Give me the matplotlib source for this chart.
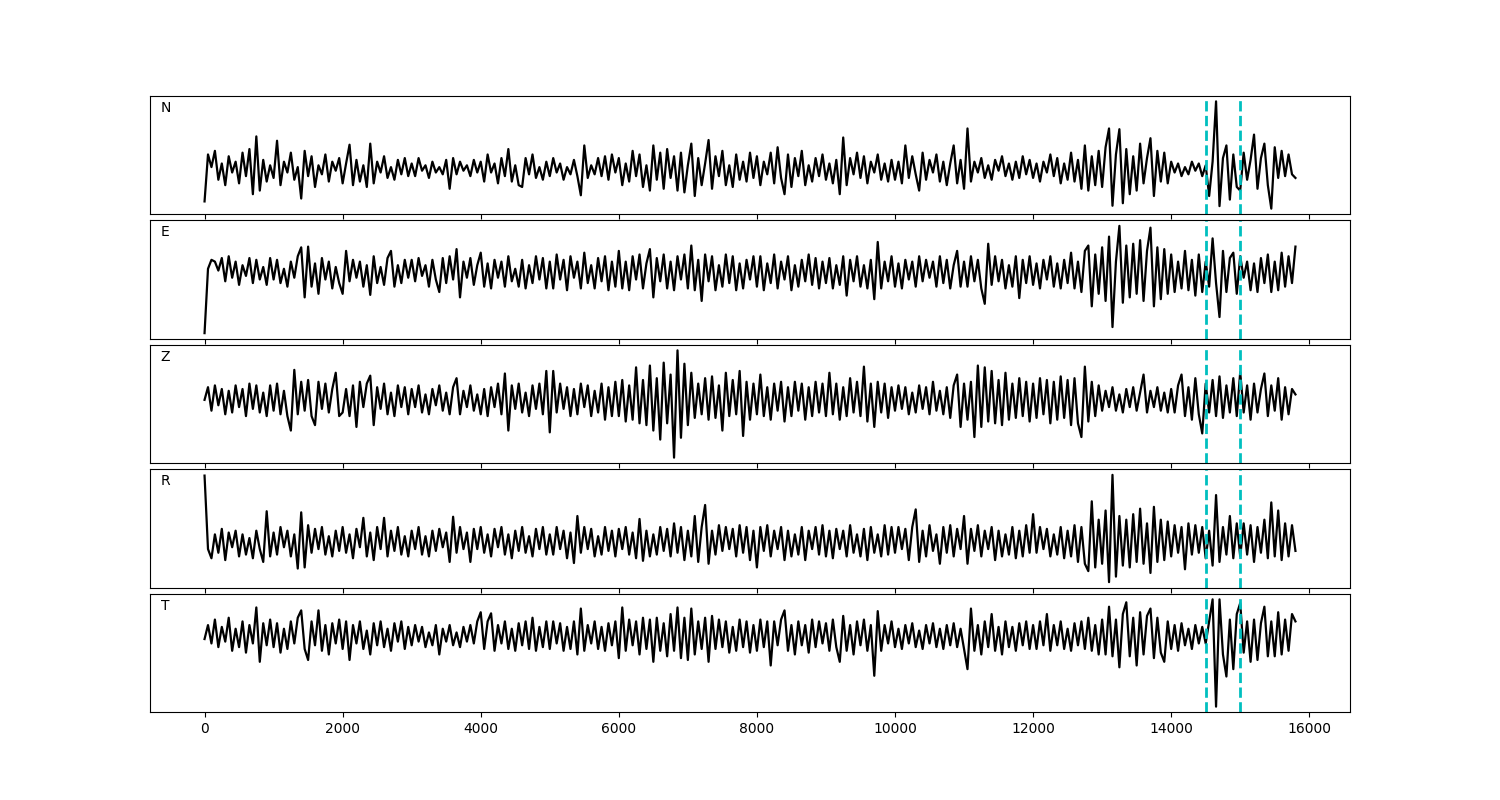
import numpy as np
import matplotlib
matplotlib.use("Agg")
import matplotlib.pyplot as plt

STEP = 50
PICKS = [14500, 15000]
LABELS = ["N", "E", "Z", "R", "T"]

N_TRACE = [
    -90, 40, 5, 50, -30, 15, -45, 35, -10, 20, -40, 45, -20, 55, -70, 90, -60, 25, -35, 10,
    -25, 78, -45, 20, -10, 45, -30, 5, -82, 50, -20, 35, -50, 10, -15, 40, -35, 20, -5, 30,
    -40, 15, 67, -45, 25, -35, 10, -50, 70, -40, 20, -10, 35, -25, 5, -30, 25, -15, 30, -20,
    15, -20, 30, -5, 10, -25, 20, -10, 5, -15, 25, -55, 30, -15, 20, -5, 10, -20, 25, -10,
    20, -35, 40, -10, 15, -40, 30, -20, 55, -35, 10, -45, -50, 30, -15, 40, -25, 5, -30, 20,
    -20, 30, -10, 15, -30, 5, -15, 25, -20, -73, 65, -25, 10, -15, 30, -20, 35, -30, 40, -10,
    30, -45, 15, -35, 50, -20, 40, -50, 10, -60, 65, -30, 45, -55, 55, -25, 35, -60, 45, -65,
    10, 70, -75, 30, -45, 15, 80, -55, 35, -20, 50, -45, 10, -50, 40, -30, 20, -35, 45, -25,
    35, -45, 20, -15, 45, -40, 60, -25, -70, 40, -50, 30, -20, 50, -45, 10, -35, 30, -20, 40,
    -30, 15, -40, 25, -70, 87, -45, 30, -15, 45, -25, 35, -40, 20, -10, 40, -30, 15, -35, 25,
    -30, 20, -40, 65, -25, 35, -15, -60, 45, -30, 25, -10, 40, -35, 20, -45, 15, 65, -40, 25,
    -55, 112, -35, 20, -10, 30, -25, 10, -30, 25, -5, 35, -20, 15, -30, 20, -25, 35, -15, 25,
    -25, 15, -35, 20, -10, 40, -20, 30, -40, 15, -30, 45, -35, 25, -55, 65, -60, 35, -45, 50,
    -50, 60, 112, -102, 40, 110, -95, 55, -70, 35, -60, 70, -40, 30, 85, -75, 50, -35, 45, -40,
    20, -10, 15, -20, 5, -15, 20, -5, 15, -20, 10, -75, 20, 187, -103, 30, 65, -85, 40, -50,
    -60, 45, -30, 25, 95, -55, 30, 70, -45, -110, 60, -25, 50, -20, 40, -15, -25,
]

E_TRACE = [
    -170, 10, 35, 30, 5, 40, -25, 45, -15, 30, -35, 20, -10, 40, -30, 35, -20, 15, -35, 40,
    -20, 35, -30, 10, -40, 30, -15, 45, 70, -70, 72, -40, 25, -60, 40, -20, 30, -45, 15, -30,
    -60, 60, -25, 35, -15, 30, -40, 20, -63, 45, -30, 15, -35, 40, 60, -40, 20, -30, 35, -15,
    35, -25, 40, -10, 20, -40, 35, -20, -55, 40, -30, 45, -20, 65, -70, 30, -15, 40, -35, 20,
    55, -40, 25, -45, 35, -15, 30, -40, 45, -25, 10, -40, 35, -45, 20, -30, 45, -20, 40, -45,
    30, -45, 50, -20, 35, -50, 45, -15, 30, -45, 55, -30, 20, -45, 40, -25, 45, -50, 30, -40,
    60, -45, 30, -50, 45, -20, 50, -45, 25, 65, -70, 40, -25, 50, -45, 30, -50, 45, -20, 50,
    -45, 75, -50, 35, -80, 50, -25, 45, -50, 20, -40, 50, -30, 45, -50, 25, -45, 35, -20, 45,
    -40, 45, -50, 25, -30, 50, -45, 30, -20, 45, -50, 20, -40, 35, -25, 50, -35, 40, -45, 30,
    -30, 40, -45, 20, -35, 45, -65, 35, -25, 45, -40, 20, -45, 35, -75, 85, -45, 30, -25, 45,
    -40, 25, -45, 35, -20, 30, -40, 45, -25, 35, -15, 30, -40, 45, -30, 35, -45, 20, 60, -40,
    30, -40, 45, -25, 35, -45, -88, 80, -35, 45, -25, 35, -45, 20, -40, 45, -72, 35, -30, 45,
    -35, 25, -45, 35, -20, 45, -40, 25, -45, 35, -30, 55, -45, 30, -55, 60, 75, -95, 50, -60,
    70, -80, 100, -153, 30, 130, -85, 75, -70, 80, -60, 90, -80, 60, 125, -95, 70, -75, 65, -60,
    50, -55, 30, -45, 60, -50, 35, -65, 50, -55, 30, -40, 95, -30, -125, 60, -55, 40, 55, -60,
    45, -15, 30, -50, 25, -55, 40, -30, 50, -55, 30, -50, 55, -40, 45, -30, 72,
]

Z_TRACE = [
    0, 35, -30, 40, -15, 30, -40, 25, -35, 40, -20, 30, -45, 45, -25, 40, -35, 20, -45, 40,
    -30, 45, -40, 25, -45, -85, 83, -40, 50, -30, 55, -45, -70, 50, -25, 45, -35, 30, 75, -45,
    -35, 30, -45, 40, -75, 50, -20, 45, 67, -70, 35, -25, 45, -40, 20, -45, 40, -20, 35, -40,
    30, -20, 40, -35, 15, -40, 30, -15, 40, -30, 20, -40, 35, 60, -40, 25, -20, 40, -30, 15,
    -40, 30, -45, 35, -20, 45, -40, 73, -85, 40, -25, 45, -35, 20, -45, 40, -25, 45, -40, 80,
    -90, 80, -35, 45, -25, 35, -45, 30, -40, 45, -20, 40, -45, 25, -35, 45, -55, 35, -45, 50,
    -45, 55, -60, 40, -55, 90, -65, 55, -70, 95, -85, 60, -110, 103, -65, 70, -160, 137, -105, 100,
    -70, 75, -50, 45, -40, 60, -55, 65, -50, 40, -85, 75, -45, 55, -40, 80, -100, 50, -55, 45,
    -40, 70, -45, 35, -55, 45, -30, 50, -60, 35, -45, 50, -30, 45, -55, 35, -45, 50, -35, 45,
    -45, 75, -40, 45, -55, 35, -45, 60, -35, 50, -45, 92, -60, 45, -75, 50, -35, 45, -50, 35,
    -30, 40, -25, 35, -40, 20, -35, 40, -25, 35, -40, 50, -30, 25, -40, 35, -50, 40, 70, -75,
    45, -55, 50, -103, 95, -75, 90, -60, 80, -65, 55, -70, 75, -55, 45, -50, 60, -45, 50, -60,
    45, -50, 60, -40, 55, -65, 50, -55, 65, -50, 55, -70, 60, -65, -103, 92, -60, 50, -45, 40,
    -30, 25, -20, 35, -30, 15, -35, 30, -20, 35, -30, 20, 70, -35, 25, -20, 35, -30, 20, -35,
    30, -35, 40, 70, -45, 35, -55, 60, -40, -93, 45, -35, 55, -45, 65, -50, 40, -35, 60, -45,
    77, -35, 40, -55, 45, -35, 30, 73, -45, 40, -30, 60, -55, 35, -40, 30, 15,
]

R_TRACE = [
    180, -20, -45, 20, -30, 35, -50, 25, -15, 30, -40, 20, -35, 10, -45, 30, -20, -55, 83, -40,
    25, -35, 40, -15, 30, -40, 20, -73, 80, -70, 45, -30, 35, -20, 40, -35, 15, -40, 30, -25,
    40, -30, 20, -45, 35, -15, 65, -40, 25, -50, 40, -20, 65, -40, 30, -25, 40, -35, 15, -40,
    30, -20, 40, -35, 15, -40, 30, -25, 35, -15, 25, -55, 68, -30, 40, -20, 25, -55, 35, -20,
    40, -30, 20, -40, 35, -15, 40, -35, 20, -45, 30, -25, 40, -30, 15, -40, 35, -20, 40, -35,
    20, -35, 40, -20, 30, -45, 25, -58, 70, -30, 40, -20, 35, -40, 15, -35, 40, -25, 30, -40,
    35, -20, 40, -35, 25, -45, 62, -52, 30, -40, 20, -35, 40, -25, 35, -40, 50, -30, 40, -50,
    30, -40, 70, -55, 40, 100, -60, 30, -35, 45, -25, 40, -20, 35, -40, 45, -30, 40, -50, 30,
    -70, 40, -25, 45, -40, 30, -20, 40, -50, 30, -40, 20, -35, 40, -50, 30, -20, 40, -35, 45,
    -40, 30, -45, 35, -20, 30, -40, 45, -30, 20, -40, 35, -50, 40, -30, 20, -40, 45, -35, 40,
    -30, 40, -20, 35, -50, 40, 88, -55, 30, -40, 45, -25, 20, -60, 40, -30, 45, -40, 35, -20,
    70, -60, 35, -25, 45, -40, 30, -20, 40, -50, 30, -40, 20, -35, 40, -45, 30, -40, 45, -30,
    75, -30, 40, -20, 35, -40, 20, -35, 40, -45, 30, -40, 45, -55, 40, -60, -80, 110, -70, 60,
    -60, 85, -110, 182, -95, 70, -65, 60, -70, 75, -55, 90, -60, 50, -85, 95, -55, 60, -50, 55,
    -40, 45, -30, 40, -75, 50, -35, 45, -30, 40, -45, 30, -65, 127, -55, 40, -35, 70, -45, 50,
    -40, 50, -35, 45, -55, 40, -30, 60, -45, 107, -40, 85, -50, 50, -40, 45, -25,
]

T_TRACE = [
    -8, 30, -20, 45, -30, 25, -15, 50, -40, 20, -30, 40, -45, 30, -20, 78, -70, 35, -25, 45,
    -30, 35, -45, 20, -35, 40, -20, 50, 70, -35, -65, 40, -25, 70, -40, 30, -50, 35, -20, 45,
    -35, 40, -65, 30, -20, 40, -35, 15, -50, 35, -25, 40, -30, 20, -40, 35, -15, 40, -35, 25,
    -25, 30, -15, 25, -30, 10, -25, 30, -50, 20, -15, 30, -25, 10, -30, 25, -15, 30, -20, 40,
    65, -35, 40, 62, -40, 30, -20, 40, -35, 20, -40, 35, -25, 40, -35, 50, -40, 25, -30, 40,
    -35, 40, -20, 35, -40, 25, -35, 40, -50, 75, -40, 30, -20, 40, -35, 25, -40, 35, -25, 40,
    -60, 78, -40, 45, -25, 40, -50, 50, -35, 45, -70, 50, -40, 35, -55, 60, -40, 78, -60, 50,
    -65, 75, -50, 40, -35, 50, -70, 55, -35, 45, -30, 40, -45, 25, -40, 45, -30, 40, -45, 30,
    -40, 45, -30, 40, -80, 40, -25, 45, 70, -40, 30, -50, 40, -25, 30, -45, 45, -30, 40, -20,
    35, -40, 45, -30, -70, 55, -40, 30, -50, 40, -25, 45, -40, 30, -108, 68, -40, 30, -20, 40,
    -30, 20, -35, 30, -20, 35, -30, 15, -35, 30, -20, 35, -30, 20, -35, 30, -25, 35, -30, 20,
    -35, -90, 75, -40, 30, -50, 40, -30, 60, -40, 25, -50, 40, -30, 25, -40, 35, -25, 40, -35,
    30, -35, 40, -25, 60, -40, 30, -25, 40, -35, 20, -40, 35, -25, 40, -35, 50, -40, 30, -50,
    45, -50, 80, -55, 45, -85, 60, 92, -55, 50, -80, 65, -50, 55, 75, -60, 50, -45, -70, 40,
    -35, 30, -40, 35, -25, 20, -35, 30, -20, 25, -20, 40, 100, -192, 100, -50, -110, 45, -90, 60,
    90, -45, 40, -70, 45, -65, 35, 80, -55, 40, -55, 65, -50, 45, -40, 60, 40,
]

TRACES = [N_TRACE, E_TRACE, Z_TRACE, R_TRACE, T_TRACE]

fig = plt.figure(figsize=(15, 8), dpi=100)
axes = fig.subplots(5, 1, sharex=True)
fig.subplots_adjust(left=0.1, right=0.9, top=0.88, bottom=0.11, hspace=0.055)

for ax, label, trace in zip(axes, LABELS, TRACES):
    y = np.asarray(trace, dtype=float)
    x = np.arange(len(y)) * STEP
    ax.plot(x, y, color="black", lw=1.6)
    for p in PICKS:
        ax.axvline(p, color="c", ls="--", lw=2)
    ax.set_yticks([])
    ax.text(0.009, 0.9, label, transform=ax.transAxes, ha="left", va="center", fontsize=10)

fig.savefig("out.png", dpi=100)
